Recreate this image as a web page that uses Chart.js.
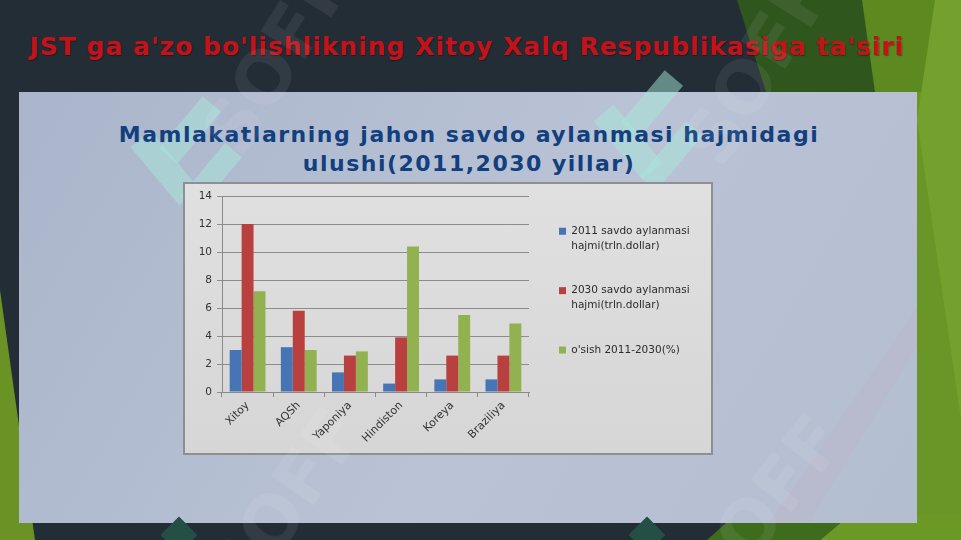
<!DOCTYPE html>
<html>
<head>
<meta charset="utf-8">
<script src="https://cdn.jsdelivr.net/npm/chart.js@4.4.1/dist/chart.umd.min.js"></script>
<style>
  html, body { margin: 0; padding: 0; }
  body { width: 961px; height: 540px; overflow: hidden; position: relative; background: #232d35; font-family: "DejaVu Sans", sans-serif; }
  .shape { position: absolute; left: 0; top: 0; width: 961px; height: 540px; }
  #slideTitle { position: absolute; left: 0; width: 934px; top: 32px; text-align: center; color: #c4121a; font: bold 25px "DejaVu Sans", sans-serif; letter-spacing: 1px; text-shadow: 1px 1px 1px rgba(0,0,0,0.35); white-space: nowrap; }
  #panel { position: absolute; left: 19px; top: 92px; width: 898px; height: 431px; background: linear-gradient(120deg, #aab5cb 0%, #bac3d5 55%, #b4bed1 100%); overflow: hidden; }
  #chartTitle { position: absolute; left: 0; width: 938px; top: 120px; text-align: center; color: #123f7e; font: bold 22px "DejaVu Sans", sans-serif; letter-spacing: 1.5px; line-height: 29px; white-space: nowrap; }
  #box { position: absolute; left: 183px; top: 182px; width: 526px; height: 269px; border: 2px solid #8e8f93; background: linear-gradient(180deg, #e0e0e0, #d6d6d6); }
  .wm { position: absolute; color: rgba(255,255,255,0.07); font: bold 72px "DejaVu Sans", sans-serif; transform-origin: 0 0; white-space: nowrap; }
  .mint { position: absolute; background: rgba(165,232,218,0.5); }
</style>
</head>
<body>
<!-- background facets -->
<div class="shape" style="background:#2f561c; clip-path: polygon(737px 0, 862px 0, 900px 200px, 800px 200px);"></div>
<div class="shape" style="background:#5d8a20; clip-path: polygon(862px 0, 942px 0, 920px 130px, 900px 200px, 875px 92px);"></div>
<div class="shape" style="background:#6a9527; clip-path: polygon(917px 92px, 961px 92px, 961px 540px, 917px 540px);"></div>
<div class="shape" style="background:#74a02d; clip-path: polygon(935px 0, 961px 0, 961px 420px, 917px 120px);"></div>
<div class="shape" style="background:#3d6c1d; clip-path: polygon(707px 540px, 735px 515px, 850px 515px, 820px 540px);"></div>
<div class="shape" style="background:#6c9826; clip-path: polygon(820px 540px, 850px 515px, 961px 515px, 961px 540px);"></div>
<div class="shape" style="background:#6a9224; clip-path: polygon(0 290px, 35px 540px, 0 540px);"></div>

<div id="slideTitle">JST ga a'zo bo'lishlikning Xitoy Xalq Respublikasiga ta'siri</div>

<div id="panel">
  <div class="shape" style="background:rgba(205,160,180,0.12); clip-path: polygon(898px 215px, 898px 255px, 790px 431px, 750px 431px);"></div>
</div>

<!-- logo marks -->
<div class="mint" style="left:152px;top:130px;width:26px;height:76px;transform:rotate(-40deg);"></div>
<div class="mint" style="left:178px;top:96px;width:24px;height:68px;transform:rotate(40deg);"></div>
<div class="mint" style="left:200px;top:142px;width:22px;height:70px;transform:rotate(40deg);"></div>
<div class="mint" style="left:615px;top:104px;width:26px;height:76px;transform:rotate(-40deg);"></div>
<div class="mint" style="left:640px;top:70px;width:24px;height:68px;transform:rotate(40deg);"></div>
<div class="mint" style="left:660px;top:120px;width:22px;height:72px;transform:rotate(40deg);"></div>
<div class="mint" style="left:166px;top:522px;width:26px;height:26px;transform:rotate(45deg);background:#234f45;"></div>
<div class="mint" style="left:634px;top:522px;width:26px;height:26px;transform:rotate(45deg);background:#234f45;"></div>

<div id="chartTitle">Mamlakatlarning jahon savdo aylanmasi hajmidagi<br>ulushi(2011,2030 yillar)</div>

<div id="box"><canvas id="myChart"></canvas></div>

<div class="wm" style="left:185px;top:125px;transform:rotate(-58deg);">SOFF</div>
<div class="wm" style="left:665px;top:135px;transform:rotate(-58deg);">SOFF</div>
<div class="wm" style="left:190px;top:565px;transform:rotate(-55deg);">SOFF</div>
<div class="wm" style="left:665px;top:565px;transform:rotate(-52deg);">SOFF</div>

<script>
const countries = ["Xitoy", "AQSh", "Yaponiya", "Hindiston", "Koreya", "Braziliya"];
const trade2011 = [3.0, 3.2, 1.4, 0.6, 0.9, 0.9];
const trade2030 = [12.0, 5.8, 2.6, 3.9, 2.6, 2.6];
const growth = [7.2, 3.0, 2.9, 10.4, 5.5, 4.9];
const seriesNames = [
  "2011 savdo aylanmasi\nhajmi(trln.dollar)",
  "2030 savdo aylanmasi\nhajmi(trln.dollar)",
  "o'sish 2011-2030(%)",
];
const yTicks = [0, 2, 4, 6, 8, 10, 12, 14];

const data = {
  labels: countries,
  datasets: [
    { label: seriesNames[0], data: trade2011, backgroundColor: "#4674b4" },
    { label: seriesNames[1], data: trade2030, backgroundColor: "#b8413f" },
    { label: seriesNames[2], data: growth, backgroundColor: "#92b150" },
  ],
};

const tickFont = { family: "DejaVu Sans", size: 10.5 };

// fixed legend column width, like the Excel chart
const legendWidth = {
  id: "legendWidth",
  beforeLayout(chart) {
    const lg = chart.legend;
    if (lg && !lg._fixed) {
      const fit = lg.fit.bind(lg);
      lg.fit = function () { fit(); this.width = 182; };
      lg._fixed = true;
    }
  },
};

const config = {
  type: "bar",
  data,
  plugins: [legendWidth],
  options: {
    responsive: true,
    maintainAspectRatio: false,
    animation: false,
    datasets: { bar: { categoryPercentage: 0.7, barPercentage: 1.0 } },
    layout: { padding: { top: 12, right: 0, bottom: 0, left: 0 } },
    plugins: {
      tooltip: { enabled: false },
      legend: {
        position: "right",
        align: "start",
        labels: {
          color: "#2b2b2b",
          font: { family: "DejaVu Sans", size: 10.5, lineHeight: 1.4 },
          boxWidth: 7,
          boxHeight: 7,
          padding: 30,
          generateLabels: (chart) =>
            Chart.defaults.plugins.legend.labels.generateLabels(chart).map((item) => {
              item.text = item.text.split("\n");
              return item;
            }),
        },
      },
    },
    scales: {
      x: {
        afterFit: (s) => { s.height = 61; },
        grid: { display: true, drawOnChartArea: false, offset: true, tickLength: 5, color: "#8a8a8a" },
        border: { color: "#8a8a8a" },
        ticks: { color: "#333", font: { family: "DejaVu Sans", size: 11 }, minRotation: 45, maxRotation: 45, padding: 2 },
      },
      y: {
        min: 0,
        max: 14,
        afterFit: (s) => { s.width = 37; },
        afterBuildTicks: (s) => { s.ticks = yTicks.map((v) => ({ value: v })); },
        grid: { color: "#8c8c8c", tickLength: 5 },
        border: { color: "#8a8a8a" },
        ticks: { color: "#333", font: tickFont, padding: 5 },
      },
    },
  },
};

var myChart = new Chart(document.getElementById("myChart"), config);
</script>
</body>
</html>
